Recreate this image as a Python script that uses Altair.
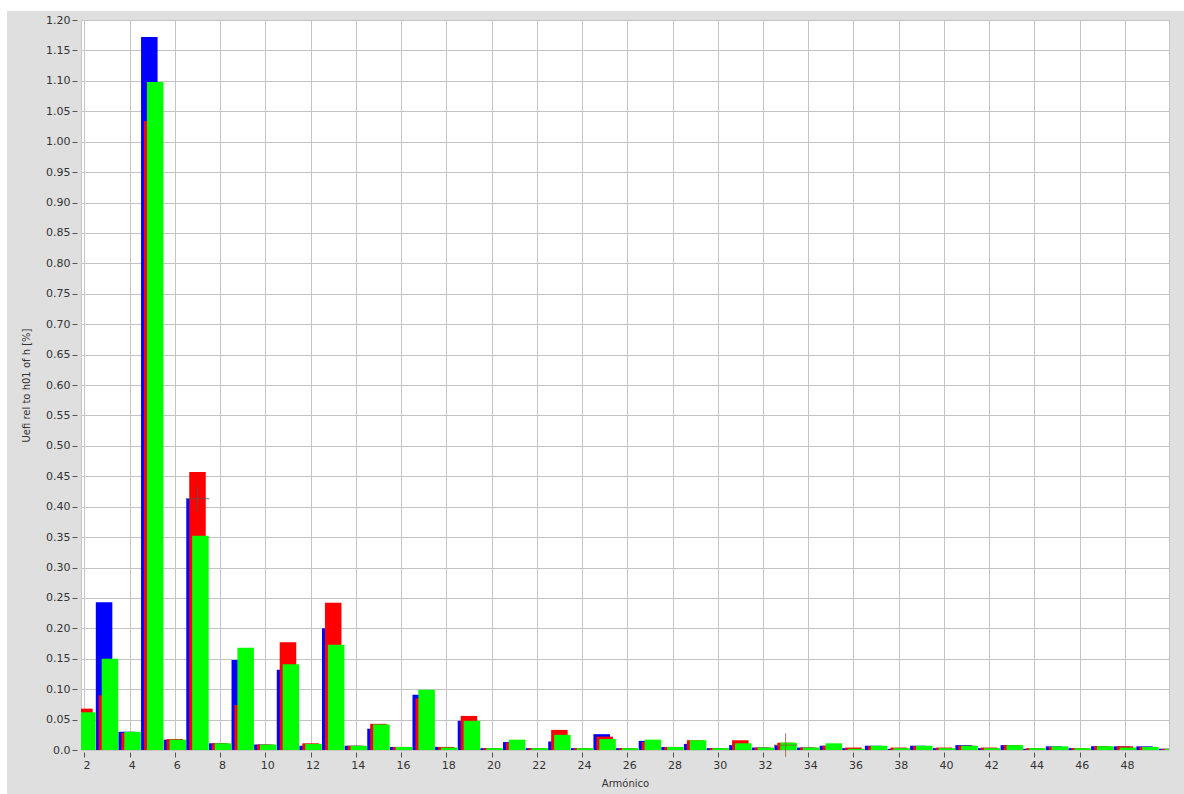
import altair as alt
import pandas as pd

# ---- data ----
harmonics = list(range(2, 51))
blue_vals = [0.060, 0.243, 0.030, 1.172, 0.017, 0.413, 0.011, 0.148, 0.009, 0.132,
             0.007, 0.200, 0.007, 0.035, 0.005, 0.091, 0.005, 0.048, 0.003, 0.013,
             0.003, 0.014, 0.003, 0.026, 0.003, 0.015, 0.005, 0.010, 0.003, 0.008,
             0.004, 0.008, 0.004, 0.007, 0.003, 0.007, 0.002, 0.007, 0.003, 0.008,
             0.003, 0.008, 0.002, 0.006, 0.003, 0.006, 0.006, 0.006, 0.002]
red_vals = [0.068, 0.090, 0.028, 1.034, 0.018, 0.457, 0.011, 0.074, 0.009, 0.177,
            0.011, 0.242, 0.007, 0.043, 0.005, 0.085, 0.005, 0.056, 0.003, 0.012,
            0.003, 0.033, 0.003, 0.022, 0.003, 0.013, 0.005, 0.016, 0.003, 0.016,
            0.004, 0.012, 0.004, 0.007, 0.004, 0.006, 0.004, 0.006, 0.004, 0.007,
            0.004, 0.008, 0.003, 0.005, 0.003, 0.006, 0.006, 0.005, 0.002]
green_vals = [0.062, 0.150, 0.030, 1.098, 0.017, 0.352, 0.011, 0.168, 0.009, 0.141,
              0.010, 0.173, 0.007, 0.042, 0.005, 0.099, 0.004, 0.048, 0.003, 0.017,
              0.003, 0.025, 0.003, 0.018, 0.003, 0.017, 0.005, 0.016, 0.003, 0.011,
              0.004, 0.012, 0.004, 0.011, 0.002, 0.007, 0.003, 0.007, 0.003, 0.007,
              0.003, 0.008, 0.003, 0.006, 0.003, 0.006, 0.004, 0.005, 0.002]
x_ticks = list(range(2, 50, 2))
y_ticks = [round(i * 0.05, 2) for i in range(25)]
cursor_h = [7, 33]
cursor_v = [0.413, 0.008]

FONT = "DejaVu Sans"
xscale = alt.Scale(domain=[1.85, 49.95], nice=False, zero=False)
yscale = alt.Scale(domain=[0, 1.2], nice=False, zero=True)

xaxis = alt.Axis(values=x_ticks, title="Armónico", grid=True, gridColor="#c4c4c4",
                 gridWidth=1, domain=False, tickSize=5, tickColor="#555555",
                 offset=2, labelPadding=2, labelOffset=2, labelFont=FONT, labelFontSize=11,
                 labelColor="#333333", titleFont=FONT, titleFontSize=10,
                 titleFontWeight="normal", titleColor="#333333", titlePadding=8,
                 labelFlush=False)
yaxis = alt.Axis(values=y_ticks, title="Uefi rel to h01 of h [%]", grid=True,
                 gridColor="#c4c4c4", gridWidth=1, domain=False, tickSize=5,
                 tickColor="#555555", offset=4, labelPadding=2, labelFont=FONT,
                 labelFontSize=11, labelColor="#333333", titleFont=FONT,
                 titleFontSize=10, titleFontWeight="normal", titleColor="#333333",
                 titlePadding=14, labelFlush=False,
                 labelExpr="datum.value == 0 ? '0.0' : format(datum.value, '.2f')")

series = [(blue_vals, -0.13, "#0000ff"), (red_vals, 0.0, "#ff0000"),
          (green_vals, 0.13, "#00ff00")]

layers = []
for vals, off, col in series:
    df = pd.DataFrame({"h": harmonics, "v": vals})
    layers.append(
        alt.Chart(df)
        .transform_calculate(x0=f"datum.h + ({off}) - 0.365",
                             x1=f"datum.h + ({off}) + 0.365")
        .mark_rect(color=col, clip=True)
        .encode(x=alt.X("x0:Q", scale=xscale, axis=xaxis),
                x2="x1:Q",
                y=alt.Y("v:Q", scale=yscale, axis=yaxis),
                y2=alt.datum(0))
    )

cur = pd.DataFrame({"h": cursor_h, "v": cursor_v})
cross = "M-1,0L1,0M0,-1L0,1"
cursor1 = alt.Chart(cur.iloc[[0]]).mark_point(
    shape=cross, size=560, filled=False, stroke="#555555", strokeWidth=1, opacity=0.8
).encode(x=alt.X("h:Q", scale=xscale, axis=xaxis), y=alt.Y("v:Q", scale=yscale, axis=yaxis))
cursor2 = alt.Chart(cur.iloc[[1]]).mark_point(
    shape=cross, size=560, filled=False, stroke="#9a5a3a", strokeWidth=1, opacity=0.8
).encode(x=alt.X("h:Q", scale=xscale, axis=xaxis), y=alt.Y("v:Q", scale=yscale, axis=yaxis))

one = pd.DataFrame({"a": [0]})
white_top = alt.Chart(one).mark_rect(color="white").encode(
    x=alt.value(-81), x2=alt.value(1103), y=alt.value(-20), y2=alt.value(-9))
white_left = alt.Chart(one).mark_rect(color="white").encode(
    x=alt.value(-81), x2=alt.value(-74), y=alt.value(-20), y2=alt.value(774))

chart = (
    alt.layer(*layers, cursor1, cursor2, white_top, white_left)
    .properties(width=1088, height=730,
                autosize=alt.AutoSizeParams(type="none"),
                padding={"left": 81, "top": 20, "right": 15, "bottom": 44},
                background="#dfdfdf")
    .configure_view(fill="white", stroke="#c4c4c4")
)

chart.save("out.html", embed_options={"renderer": "svg", "actions": False})
